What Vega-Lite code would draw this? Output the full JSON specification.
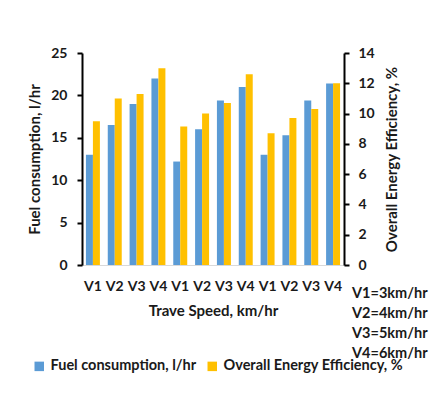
{
  "$schema": "https://vega.github.io/schema/vega-lite/v6.json",
  "autosize": {"type": "none"},
  "padding": {"left": 82, "top": 53, "right": 92, "bottom": 137},
  "width": 262,
  "height": 212,
  "background": "white",
  "config": {
    "font": "Lato",
    "view": {"stroke": null},
    "axis": {
      "labelFont": "Lato",
      "labelFontWeight": "bold",
      "labelFontSize": 14,
      "labelColor": "#1a1a1a",
      "titleFont": "Lato",
      "titleFontWeight": "bold",
      "titleFontSize": 15,
      "titleColor": "#1a1a1a",
      "grid": false
    },
    "legend": {
      "labelFont": "Lato",
      "labelFontWeight": "bold",
      "labelFontSize": 14.5,
      "labelColor": "#1a1a1a",
      "labelLimit": 0
    }
  },
  "title": {
    "text": ["V1=3km/hr", "V2=4km/hr", "V3=5km/hr", "V4=6km/hr"],
    "orient": "bottom",
    "anchor": "end",
    "frame": "group",
    "align": "left",
    "baseline": "top",
    "dx": 8,
    "dy": -90,
    "fontSize": 14.5,
    "fontWeight": "bold",
    "font": "Lato",
    "color": "#1a1a1a",
    "lineHeight": 20
  },
  "data": {
    "values": [
      {"slot": "01V1", "fuel": 13.0, "eff": 9.5},
      {"slot": "02V2", "fuel": 16.5, "eff": 11.0},
      {"slot": "03V3", "fuel": 19.0, "eff": 11.3},
      {"slot": "04V4", "fuel": 22.0, "eff": 13.0},
      {"slot": "05V1", "fuel": 12.2, "eff": 9.15},
      {"slot": "06V2", "fuel": 16.0, "eff": 10.0},
      {"slot": "07V3", "fuel": 19.4, "eff": 10.7},
      {"slot": "08V4", "fuel": 21.0, "eff": 12.6},
      {"slot": "09V1", "fuel": 13.0, "eff": 8.7},
      {"slot": "10V2", "fuel": 15.3, "eff": 9.7},
      {"slot": "11V3", "fuel": 19.4, "eff": 10.3},
      {"slot": "12V4", "fuel": 21.4, "eff": 12.0}
    ]
  },
  "encoding": {
    "x": {
      "field": "slot",
      "type": "nominal",
      "sort": null,
      "scale": {"paddingInner": 0.36, "paddingOuter": 0.18},
      "axis": {
        "labelExpr": "substring(datum.label, 2)",
        "labelAngle": 0,
        "ticks": false,
        "tickSize": 0,
        "labelPadding": 14,
        "domainColor": "#d9d9d9",
        "domainWidth": 1,
        "title": "Trave Speed, km/hr",
        "titlePadding": 10
      }
    }
  },
  "layer": [
    {
      "mark": {"type": "bar"},
      "encoding": {
        "y": {
          "field": "fuel",
          "type": "quantitative",
          "scale": {"domain": [0, 25]},
          "axis": {
            "orient": "left",
            "values": [0, 5, 10, 15, 20, 25],
            "domainColor": "black",
            "domainWidth": 2,
            "tickColor": "black",
            "tickWidth": 2,
            "tickSize": 5,
            "labelPadding": 10,
            "title": "Fuel consumption, l/hr",
            "titlePadding": 8
          }
        },
        "xOffset": {
          "datum": "Fuel consumption, l/hr",
          "scale": {"domain": ["Fuel consumption, l/hr", "Overall Energy Efficiency, %"]}
        },
        "color": {
          "datum": "Fuel consumption, l/hr",
          "scale": {
            "domain": ["Fuel consumption, l/hr", "Overall Energy Efficiency, %"],
            "range": ["#5B9BD5", "#FFC000"]
          },
          "legend": {
            "orient": "none",
            "legendX": -50,
            "legendY": 306,
            "direction": "horizontal",
            "title": null,
            "symbolType": "square",
            "symbolSize": 90,
            "symbolStrokeWidth": 0,
            "columnPadding": 8,
            "labelOffset": 4
          }
        }
      }
    },
    {
      "mark": {"type": "bar"},
      "encoding": {
        "y": {
          "field": "eff",
          "type": "quantitative",
          "scale": {"domain": [0, 14]},
          "axis": {
            "orient": "right",
            "values": [0, 2, 4, 6, 8, 10, 12, 14],
            "domainColor": "black",
            "domainWidth": 2,
            "tickColor": "black",
            "tickWidth": 2,
            "tickSize": 5,
            "labelPadding": 9,
            "title": "Overall Energy Efficiency, %",
            "titleAngle": -90,
            "titleBaseline": "top",
            "titlePadding": 10
          }
        },
        "xOffset": {"datum": "Overall Energy Efficiency, %"},
        "color": {"datum": "Overall Energy Efficiency, %"}
      }
    }
  ],
  "resolve": {"scale": {"y": "independent"}}
}
